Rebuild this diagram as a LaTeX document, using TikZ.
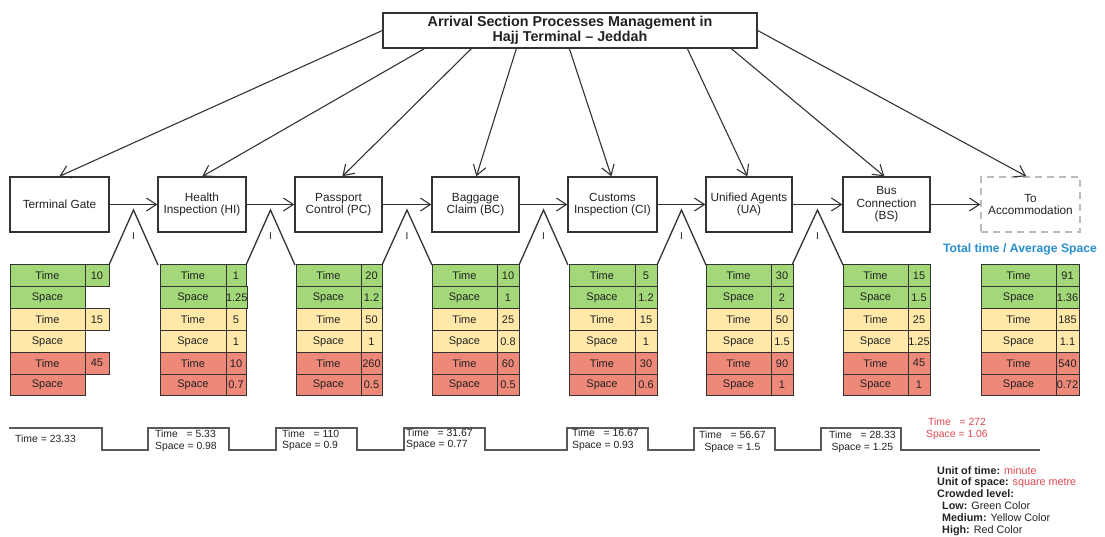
\documentclass[tikz,border=0pt]{standalone}
\usepackage{fontspec}
\setmainfont{Liberation Sans}
\usetikzlibrary{arrows.meta}
\definecolor{cgreen}{HTML}{A2D878}
\definecolor{cyellow}{HTML}{FFE8A8}
\definecolor{cred}{HTML}{EE8878}
\definecolor{cline}{HTML}{333333}
\definecolor{ctext}{HTML}{222222}
\definecolor{cblue}{HTML}{2A8FD0}
\definecolor{credtxt}{HTML}{E04850}
\definecolor{cdash}{HTML}{BBBBBB}

\def\dashmark{-}
\newcommand\mktable[5]{%
  \foreach \v [count=\i] in {#5} {
    \pgfmathsetmacro\ytop{265+(\i-1)*21.83}
    \ifnum\i<3 \def\rc{cgreen}\else\ifnum\i<5 \def\rc{cyellow}\else\def\rc{cred}\fi\fi
    \ifodd\i \def\lb{Time}\else\def\lb{Space}\fi
    \node[cell, fill=\rc, minimum width={#3-#2}, anchor=north west] (#1l\i) at (#2,\ytop) {\lb};
    \ifx\v\dashmark\else
      \node[cell, fill=\rc, minimum width={#4-#3}, anchor=north west] (#1v\i) at (#3,\ytop) {\v};
    \fi
  }%
}

\begin{document}
\begin{tikzpicture}[x=1pt,y=-1pt,
  every node/.style={text=ctext},
  box/.style={draw=cline, line width=1.3pt, fill=white, minimum height=55, inner sep=1pt, align=center,
    font=\fontsize{11.8}{12.5}\selectfont},
  dbox/.style={draw=cdash, line width=1.3pt, dash pattern=on 7pt off 5pt, minimum height=55, inner sep=1pt, align=center,
    font=\fontsize{11.8}{12.5}\selectfont},
  arr/.style={draw=cline, line width=1.1pt, -{Straight Barb[length=10pt,width=13pt,line width=1.1pt]}},
  tri/.style={draw=cline, line width=1.3pt},
  cell/.style={draw=cline, line width=1pt, minimum height=21.83, inner sep=0pt, outer sep=0pt,
    font=\fontsize{11}{12}\selectfont},
  steptext/.style={font=\fontsize{10.4}{11.5}\selectfont, inner sep=0pt, align=left},
]
\useasboundingbox (0,0) rectangle (1105,537);

% title
\node[draw=cline, line width=1.3pt, minimum width=374, minimum height=35, inner sep=0pt, align=center,
  font=\fontsize{14.3}{14.5}\selectfont\bfseries] (title) at (570,30.5)
  {Arrival Section Processes Management in\\Hajj Terminal -- Jeddah};

% process boxes
\node[box, minimum width=99] (TG) at (59.5,204.5) {Terminal Gate};
\node[box, minimum width=88] (HI) at (202,204.5) {Health\\Inspection (HI)};
\node[box, minimum width=87] (PC) at (338.5,204.5) {Passport\\Control (PC)};
\node[box, minimum width=87] (BC) at (475.5,204.5) {Baggage\\Claim (BC)};
\node[box, minimum width=89] (CI) at (612.5,204.5) {Customs\\Inspection (CI)};
\node[box, minimum width=86] (UA) at (749,204.5) {Unified Agents\\(UA)};
\node[box, minimum width=87] (BS) at (886.5,204.5) {Bus\\Connection\\(BS)};
\node[dbox, minimum width=99] (TA) at (1030.5,204.5) {To\\Accommodation};

% horizontal arrows
\draw[arr] (TG.east) -- (HI.west);
\draw[arr] (HI.east) -- (PC.west);
\draw[arr] (PC.east) -- (BC.west);
\draw[arr] (BC.east) -- (CI.west);
\draw[arr] (CI.east) -- (UA.west);
\draw[arr] (UA.east) -- (BS.west);
\draw[arr] (BS.east) -- (TA.west);

% arrows from the title
\draw[arr] (title.west) -- ([xshift=50]TG.north west);
\draw[arr] ([xshift=42]title.south west) -- ([xshift=45]HI.north west);
\draw[arr] ([xshift=89]title.south west) -- ([xshift=48]PC.north west);
\draw[arr] ([xshift=134]title.south west) -- ([xshift=45]BC.north west);
\draw[arr] ([xshift=187]title.south west) -- ([xshift=44]CI.north west);
\draw[arr] ([xshift=305]title.south west) -- ([xshift=42]UA.north west);
\draw[arr] ([xshift=349]title.south west) -- ([xshift=42]BS.north west);
\draw[arr] (title.east) -- ([xshift=46]TA.north west);

% inventory triangles
\draw[tri] (109,265) -- (133.5,210) -- (158,265);
\draw[tri] (246,265) -- (270.5,210) -- (295,265);
\draw[tri] (382,265) -- (407,210) -- (432,265);
\draw[tri] (519,265) -- (543.5,210) -- (568,265);
\draw[tri] (657,265) -- (681.5,210) -- (706,265);
\draw[tri] (792,265) -- (817.5,210) -- (843,265);
\foreach \x [count=\k] in {133.5,270.5,407,543.5,681.5,817.5}
  \node[font=\fontsize{10}{11}\selectfont, inner sep=0pt] (inv\k) at (\x,236) {I};

% tables
\mktable{ta}{10}{85}{109}{10,-,15,-,45,-}
\mktable{tb}{160}{226}{246}{1,1.25,5,1,10,0.7}
\mktable{tc}{296}{361}{382}{20,1.2,50,1,260,0.5}
\mktable{td}{432}{497}{519}{10,1,25,0.8,60,0.5}
\mktable{te}{569}{635}{657}{5,1.2,15,1,30,0.6}
\mktable{tf}{706}{771}{793}{30,2,50,1.5,90,1}
\mktable{tg}{843}{908}{930}{15,1.5,25,1.25,45,1}
\mktable{th}{981}{1056}{1079}{91,1.36,185,1.1,540,0.72}

\node[font=\fontsize{12.2}{13}\selectfont\bfseries, text=cblue, inner sep=0pt] (total) at (1020,249)
  {Total time / Average Space};

% step line
\draw[draw=black!65, line width=1.4pt]
  (9,428) -- (102,428) -- (102,450) -- (148,450) -- (148,428) -- (229,428) -- (229,450)
  -- (276,450) -- (276,428) -- (357,428) -- (357,450) -- (404,450) -- (404,428) -- (485,428)
  -- (485,450) -- (567,450) -- (567,428) -- (648,428) -- (648,450) -- (694,450) -- (694,428)
  -- (775,428) -- (775,450) -- (821,450) -- (821,428) -- (901,428) -- (901,450) -- (1040,450);

\node[steptext, anchor=west] (s1) at (15,439) {Time = 23.33};
\node[steptext, anchor=west] (s2) at (155,441) {Time~~~= 5.33\\Space = 0.98};
\node[steptext, anchor=west] (s3) at (282,440.5) {Time~~~= 110\\Space = 0.9};
\node[steptext, anchor=west] (s4) at (406,439.5) {Time~~~= 31.67\\Space = 0.77};
\node[steptext, anchor=west] (s5) at (572,440) {Time~~~= 16.67\\Space = 0.93};
\node[steptext, anchor=west, align=center] (s6) at (699,442) {Time~~~= 56.67\\Space = 1.5};
\node[steptext, anchor=west, align=center] (s7) at (829,442) {Time~~~= 28.33\\Space = 1.25};
\node[steptext, anchor=west, align=center, text=credtxt] (s8) at (926,429) {Time~~~= 272\\Space = 1.06};

% legend
\node[anchor=north west, align=left, inner sep=0pt, font=\fontsize{10.8}{11.8}\selectfont] (legend) at (937,466)
  {\textbf{Unit of time:} \textcolor{credtxt}{minute}\\
   \textbf{Unit of space:} \textcolor{credtxt}{square metre}\\
   \textbf{Crowded level:}\\
   \hspace*{5pt}\textbf{Low:} Green Color\\
   \hspace*{5pt}\textbf{Medium:} Yellow Color\\
   \hspace*{5pt}\textbf{High:} Red Color};
\end{tikzpicture}
\end{document}
